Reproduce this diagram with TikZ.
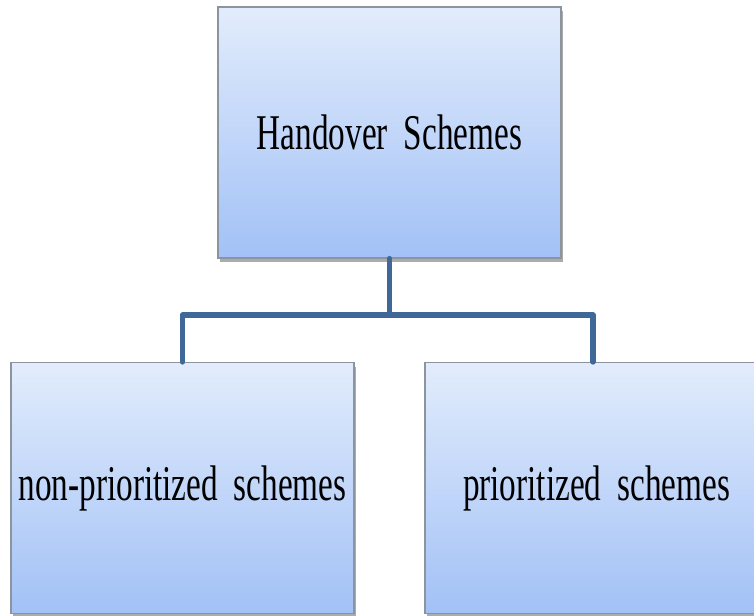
\documentclass[tikz,border=0pt]{standalone}
\usepackage{fontspec}
\setmainfont{Liberation Serif}[FakeStretch=0.665, WordSpace=1.9]
\usetikzlibrary{shadows}
\definecolor{boxtop}{HTML}{E2ECFC}
\definecolor{boxbot}{HTML}{A2C1F6}
\definecolor{boxline}{HTML}{8C949E}
\definecolor{linkblue}{HTML}{3F6899}
\tikzset{
  schemebox/.style={rectangle, draw=boxline, line width=1.2pt,
    top color=boxtop, bottom color=boxbot,
    minimum width=343pt, minimum height=251pt, inner sep=0pt,
    font=\fontsize{50}{60}\selectfont,
    drop shadow={shadow xshift=2pt, shadow yshift=-4pt, opacity=0.5, fill=black!65}},
  link/.style={draw=linkblue, line width=5.5pt, line cap=round, line join=round}
}
\begin{document}
\begin{tikzpicture}[x=1pt, y=-1pt]
  \useasboundingbox (0,0) rectangle (754,615);
  \clip (0,0) rectangle (754,615);
  \fill[white] (0,0) rectangle (754,615);
  % branch points of the tree
  \coordinate (split) at (389.5,315);
  \coordinate (splitL) at (182.5,315);
  \coordinate (splitR) at (593,315);
  % boxes
  \node[schemebox] (root) at (389.5,132.5) {Handover Schemes};
  \node[schemebox] (nonprio) at (182.5,488) {non-prioritized schemes};
  \node[schemebox] (prio) at (596.5,488) {prioritized schemes};
  % connectors from the root to its two children
  \draw[link] (root.south) -- (split);
  \draw[link] (nonprio.north -| splitL) -- (splitL) -- (splitR) -- (prio.north -| splitR);
\end{tikzpicture}
\end{document}
